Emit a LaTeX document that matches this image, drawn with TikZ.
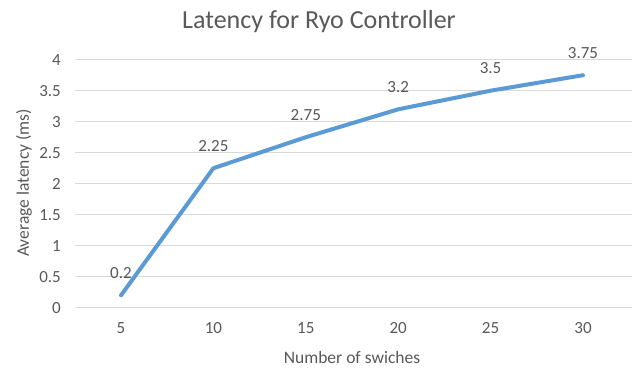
\documentclass[tikz,border=0pt]{standalone}
\usepackage{fontspec}
\setmainfont{Carlito}
\definecolor{txtgray}{HTML}{595959}
\definecolor{gridgray}{HTML}{D9D9D9}
\definecolor{series}{HTML}{5B9BD5}
\begin{document}
\begin{tikzpicture}[x=1pt,y=-1pt,
  every node/.style={text=txtgray,inner sep=0pt},
  tick/.style={font=\fontsize{17}{17}\selectfont},
  datalabel/.style={font=\fontsize{17}{17}\selectfont,anchor=center},
  axistitle/.style={font=\fontsize{17.5}{17.5}\selectfont},
  gridline/.style={draw=gridgray,line width=1pt},
  serieslink/.style={draw=series,line width=4pt,line join=round,line cap=round}]
  \useasboundingbox[fill=white] (0,0) rectangle (637,368);

  % chart title
  \node[font=\fontsize{26}{26}\selectfont] (title) at (319,22) {Latency for Ryo Controller};

  % horizontal gridlines and value-axis labels
  \foreach \v/\lab [count=\i] in {0/0,0.5/0.5,1/1,1.5/1.5,2/2,2.5/2.5,3/3,3.5/3.5,4/4}{
    \coordinate (gl\i) at (75,{307.7-62*\v});
    \coordinate (gr\i) at (632,{307.7-62*\v});
    \draw[gridline] (gl\i) -- (gr\i);
    \node[tick,anchor=east] (yl\i) at (61,{307.7-62*\v}) {\lab};
  }

  % category-axis labels
  \foreach \c [count=\i from 0] in {5,10,15,20,25,30}{
    \node[tick] (xl\i) at ({121+92.4*\i},328) {\c};
  }

  % axis titles
  \node[axistitle] (xtitle) at (352,357) {Number of swiches};
  \node[axistitle,rotate=90] (ytitle) at (24,183) {Average latency (ms)};

  % data points
  \foreach \v [count=\i from 0] in {0.2,2.25,2.75,3.2,3.5,3.75}{
    \coordinate (p\i) at ({121+92.4*\i},{307.7-62*\v});
  }
  \draw[serieslink] (p0) -- (p1) -- (p2) -- (p3) -- (p4) -- (p5);

  % data labels
  \foreach \lab [count=\i from 0] in {0.2,2.25,2.75,3.2,3.5,3.75}{
    \node[datalabel] (d\i) at ([yshift=22.5pt]p\i) {\lab};
  }
\end{tikzpicture}
\end{document}
